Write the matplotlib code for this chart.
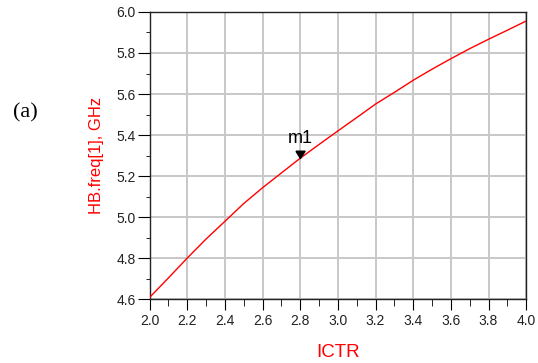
import matplotlib
matplotlib.use("Agg")
import matplotlib.pyplot as plt
from matplotlib.ticker import MultipleLocator

# valeurs
ictr = [2.0, 2.1, 2.2, 2.3, 2.4, 2.5, 2.6, 2.7, 2.8, 2.9, 3.0,
        3.1, 3.2, 3.3, 3.4, 3.5, 3.6, 3.7, 3.8, 3.9, 4.0]
freq = [4.608, 4.703, 4.800, 4.893, 4.979, 5.066, 5.143, 5.215, 5.287, 5.354, 5.420,
        5.485, 5.551, 5.608, 5.667, 5.721, 5.772, 5.821, 5.867, 5.911, 5.956]
marqueur_nom = "m1"
marqueur_idx = 8

plt.rcParams['font.family'] = ['Liberation Sans', 'DejaVu Sans']

fig = plt.figure(figsize=(5.38, 3.63), dpi=100)
ax = fig.add_axes([0.278, 0.176, 0.700, 0.791])

ax.plot(ictr, freq, color="red", lw=1.0, zorder=3)

# marqueur m1 : triangle pointe en bas, pointe sur la courbe
tri = [(-1, 1.6), (1, 1.6), (0, 0), (-1, 1.6)]
ax.plot(ictr[marqueur_idx], freq[marqueur_idx], marker=tri, color="black",
        markersize=10.5, linestyle="none", zorder=4)
ax.annotate(marqueur_nom, xy=(ictr[marqueur_idx], freq[marqueur_idx]),
            xytext=(0, 8.0), textcoords="offset points", ha="center",
            va="bottom", fontsize=13, color="black")

ax.set_xlim(2.0, 4.0)
ax.set_ylim(4.6, 6.0)
ax.xaxis.set_major_locator(MultipleLocator(0.2))
ax.xaxis.set_minor_locator(MultipleLocator(0.1))
ax.yaxis.set_major_locator(MultipleLocator(0.2))
ax.yaxis.set_minor_locator(MultipleLocator(0.1))
ax.xaxis.set_major_formatter(lambda v, p: "%.1f" % v)
ax.yaxis.set_major_formatter(lambda v, p: "%.1f" % v)

ax.grid(True, which="major", color="#c8c8c8", lw=1.4)
ax.set_axisbelow(True)
ax.tick_params(which="major", direction="out", labelsize=10, colors="black",
               labelcolor="#222222")
ax.tick_params(axis="y", which="major", length=8.5, pad=1.5)
ax.tick_params(axis="y", which="minor", length=3)
ax.tick_params(axis="x", which="major", length=8, pad=3)
ax.tick_params(axis="x", which="minor", length=5)
for s in ax.spines.values():
    s.set_color("#222222")
    s.set_linewidth(1.0)

ax.set_xlabel("ICTR", color="red", fontsize=13.5, labelpad=11)
ax.set_ylabel("HB.freq[1], GHz", color="red", fontsize=12, labelpad=9)

fig.text(0.048, 0.69, "(a)", fontsize=16, family=["Liberation Serif", "DejaVu Serif"],
         ha="center", va="center")

fig.savefig("out.png", dpi=100)
